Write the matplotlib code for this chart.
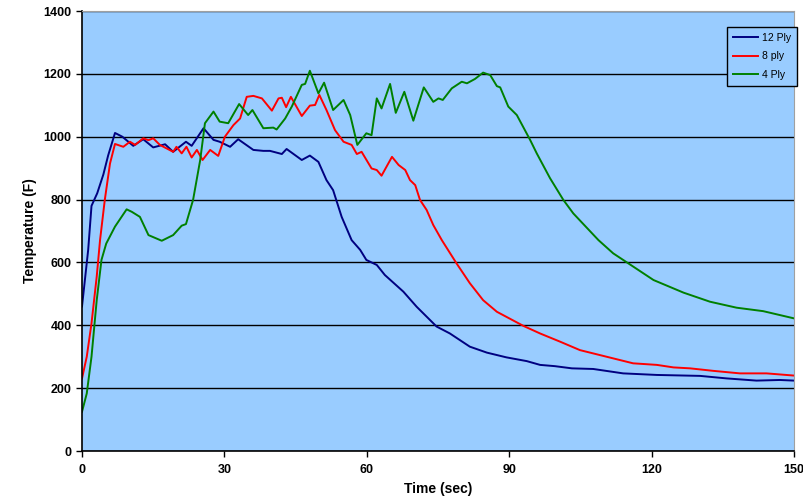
import matplotlib.pyplot as plt

# Temperatura vs tiempo para 12, 8 y 4 capas
t_12 = [0, 1.3, 2, 3.2, 4.5, 5.5, 6.95, 8.5, 10.8, 12.9, 15, 17.5, 19.2, 21.9, 23.1,
        25.6, 27.7, 29, 31.2, 32.9, 36.1, 38.2, 39.6, 42.1, 43.1, 46.3, 48, 49.8,
        51.5, 52.9, 54.7, 56.8, 58.6, 59.9, 62.1, 63.8, 67.7, 70.5, 74.7, 77.5,
        81.7, 85.3, 89.4, 93.7, 96.5, 99.6, 103.2, 107.7, 114, 121.1, 130.2,
        135.8, 142.1, 147, 150]
v_12 = [460, 640, 780, 820, 880, 940, 1012, 1000, 971, 992, 966, 976, 952, 984, 971,
        1027, 990, 984, 968, 992, 958, 955, 955, 945, 961, 926, 940, 920,
        862, 830, 745, 671, 640, 608, 592, 560, 507, 459, 396, 374,
        332, 313, 298, 286, 274, 270, 263, 261, 247, 242, 239,
        231, 224, 226, 224]

t_8 = [0, 1, 2, 3.1, 3.8, 4.8, 5.9, 6.95, 8.7, 10.1, 11.2, 12.9, 14, 15, 16.4, 19.2,
       19.9, 21, 22, 23.1, 24.2, 25.4, 27, 28.7, 30.1, 31.9, 33.3, 34.7, 36.1,
       37.9, 40, 41.4, 42.1, 43, 44, 46.3, 48, 49.1, 50, 51.5, 53.3, 55.1, 56.8,
       57.9, 58.9, 61, 62.1, 63.1, 65.3, 66.7, 68.1, 69.1, 70.2, 71.2, 72.6, 74,
       75.8, 78.9, 81.7, 84.5, 87.4, 93, 96.5, 100.7, 104.9, 110.5, 116.1, 121.1,
       124.6, 128.1, 133, 138.6, 144.2, 150]
v_8 = [231, 300, 406, 555, 671, 799, 915, 977, 968, 984, 974, 995, 989, 995, 974, 952,
       968, 947, 968, 934, 958, 926, 958, 939, 1000, 1037, 1058, 1127, 1130,
       1122, 1083, 1122, 1124, 1094, 1127, 1066, 1099, 1101, 1133, 1085, 1021, 984, 974,
       945, 952, 899, 894, 876, 936, 910, 894, 862, 846, 799, 767, 719,
       671, 597, 534, 480, 443, 398, 374, 348, 321, 300, 279, 274,
       266, 263, 255, 247, 247, 240]

t_4 = [0, 1, 2, 3.1, 4.1, 5.1, 6.95, 9.4, 10.5, 12.2, 14, 16.8, 19.2, 21, 21.9, 23.4,
       24.9, 25.9, 27.7, 29, 30.8, 33.1, 35, 35.9, 38.2, 40.3, 41, 42.8, 44.2,
       46.3, 47, 48, 49.8, 51, 52.9, 55.1, 56.5, 58, 59.9, 61, 62.1, 63.1, 64.9,
       66.1, 67.9, 69.8, 72, 74, 75.1, 76, 77.9, 80, 81.1, 82.8, 84.5, 86, 87.4,
       88.1, 89.8, 91.6, 94.4, 95.8, 98.6, 101.4, 103.5, 108.8, 111.9, 115.1,
       120.4, 126.7, 132.3, 137.9, 143.5, 150]
v_4 = [125, 183, 300, 480, 608, 660, 714, 769, 761, 745, 687, 669, 687, 717, 722, 799,
       926, 1043, 1080, 1048, 1043, 1104, 1069, 1085, 1027, 1029, 1023, 1058, 1096,
       1165, 1168, 1210, 1138, 1172, 1085, 1117, 1069, 974, 1011, 1005, 1122, 1090, 1168,
       1076, 1143, 1051, 1157, 1111, 1122, 1117, 1154, 1175, 1170, 1184, 1204, 1196, 1161,
       1157, 1096, 1069, 990, 947, 868, 799, 756, 671, 629, 597,
       544, 504, 475, 456, 445, 422]

plt.rcParams['font.family'] = ['Liberation Sans', 'DejaVu Sans']

fig = plt.figure(figsize=(8.04, 5.01), dpi=100)
ax = fig.add_axes([0.102, 0.0998, 0.8856, 0.8782])
ax.set_facecolor("#99CCFF")

ax.plot(t_12, v_12, color="#000080", lw=1.4, label="12 Ply")
ax.plot(t_8, v_8, color="#FF0000", lw=1.4, label="8 ply")
ax.plot(t_4, v_4, color="#008000", lw=1.4, label="4 Ply")

ax.set_xlim(0, 150)
ax.set_ylim(0, 1400)
ax.set_xticks(range(0, 151, 30))
ax.set_yticks(range(0, 1401, 200))
ax.yaxis.grid(True, color="black", lw=1)
ax.set_axisbelow(True)
ax.tick_params(direction="out", length=4, width=1, labelsize=9)
ax.tick_params(axis="x", pad=5)
for lab in ax.get_xticklabels() + ax.get_yticklabels():
    lab.set_fontweight("bold")
ax.spines["top"].set_color("#a0a0a0")
ax.spines["right"].set_color("#a0a0a0")
for s in ["left", "bottom"]:
    ax.spines[s].set_linewidth(1.2)

ax.set_xlabel("Time (sec)", fontsize=10, fontweight="bold", labelpad=5)
ax.set_ylabel("Temperature (F)", fontsize=10, fontweight="bold", labelpad=5)

leg = ax.legend(loc="upper right", bbox_to_anchor=(1.004, 0.964), borderaxespad=0,
                fontsize=7.5, frameon=True, fancybox=False, edgecolor="black",
                facecolor="#99CCFF", framealpha=1, handlelength=2.4,
                handletextpad=0.3, borderpad=0.6, labelspacing=0.8)
leg.get_frame().set_linewidth(1)

fig.savefig("out.png", dpi=100)
